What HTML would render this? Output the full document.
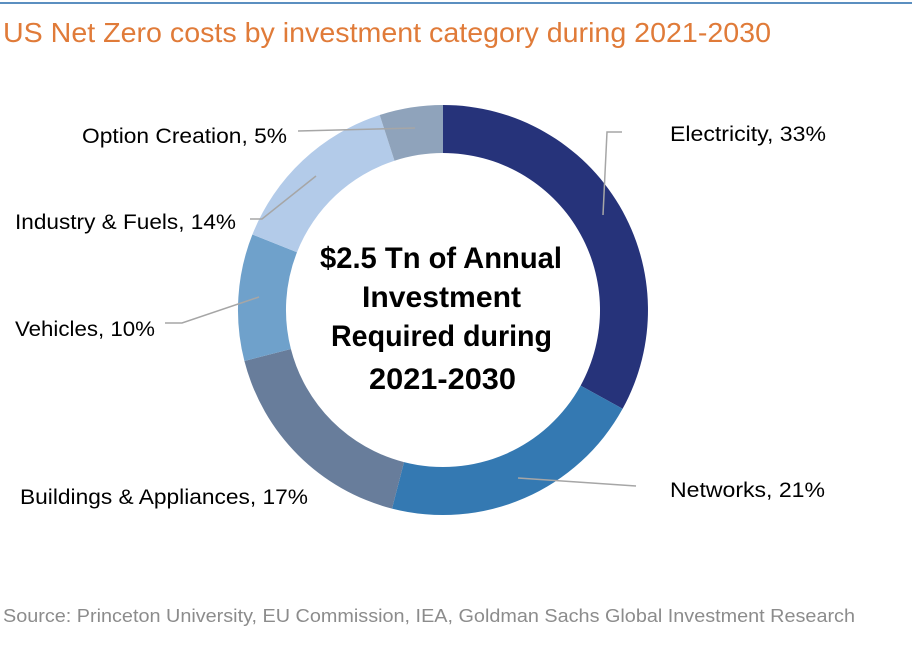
<!DOCTYPE html>
<html><head><style>
body{margin:0;background:#fff;}
svg text{font-family:"Liberation Sans",sans-serif;}
</style></head><body>
<svg width="920" height="655" viewBox="0 0 920 655" xmlns="http://www.w3.org/2000/svg">
<rect width="920" height="655" fill="#fff"/>
<line x1="0" y1="3" x2="912" y2="3" stroke="#5b8fc0" stroke-width="2"/>
<text x="3" y="42" font-size="28" fill="#e07b39" textLength="768" lengthAdjust="spacingAndGlyphs">US Net Zero costs by investment category during 2021-2030</text>
<g>
<path fill="#26337a" d="M443,105 A205,205 0 0 1 622.6,408.8 L580.6,385.6 A157,157 0 0 0 443,153 Z"/>
<path fill="#3479b2" d="M622.6,408.8 A205,205 0 0 1 392.0,508.6 L404.0,462.1 A157,157 0 0 0 580.6,385.6 Z"/>
<path fill="#687d9b" d="M392.0,508.6 A205,205 0 0 1 244.4,361.0 L290.9,349.0 A157,157 0 0 0 404.0,462.1 Z"/>
<path fill="#6fa1cb" d="M244.4,361.0 A205,205 0 0 1 252.4,234.5 L297.0,252.2 A157,157 0 0 0 290.9,349.0 Z"/>
<path fill="#b3cbe9" d="M252.4,234.5 A205,205 0 0 1 379.7,115.0 L394.5,160.7 A157,157 0 0 0 297.0,252.2 Z"/>
<path fill="#8fa3bb" d="M379.7,115.0 A205,205 0 0 1 443,105 L443,153 A157,157 0 0 0 394.5,160.7 Z"/>
</g>
<g stroke="#a6a6a6" stroke-width="1.5" fill="none">
<polyline points="415,128 298,131"/>
<polyline points="603,215 607,132 622,132"/>
<polyline points="316,176 262,219 250,219"/>
<polyline points="259,297 182,323 165,323"/>
<polyline points="518,478 636,486"/>
</g>
<g font-size="21" fill="#000" lengthAdjust="spacingAndGlyphs">
<text x="82" y="143" textLength="205" lengthAdjust="spacingAndGlyphs">Option Creation, 5%</text>
<text x="670" y="141" textLength="156" lengthAdjust="spacingAndGlyphs">Electricity, 33%</text>
<text x="15" y="229" textLength="221" lengthAdjust="spacingAndGlyphs">Industry &amp; Fuels, 14%</text>
<text x="15" y="336" textLength="140" lengthAdjust="spacingAndGlyphs">Vehicles, 10%</text>
<text x="670" y="497" textLength="155" lengthAdjust="spacingAndGlyphs">Networks, 21%</text>
<text x="20" y="504" textLength="288" lengthAdjust="spacingAndGlyphs">Buildings &amp; Appliances, 17%</text>
</g>
<g font-size="30" font-weight="bold" fill="#000">
<text x="320" y="268" textLength="242" lengthAdjust="spacingAndGlyphs">$2.5 Tn of Annual</text>
<text x="362" y="307" textLength="159" lengthAdjust="spacingAndGlyphs">Investment</text>
<text x="331" y="346" textLength="221" lengthAdjust="spacingAndGlyphs">Required during</text>
<text x="369" y="389" textLength="147" lengthAdjust="spacingAndGlyphs">2021-2030</text>
</g>
<text x="3" y="622" font-size="18" fill="#8c8c8c" textLength="852" lengthAdjust="spacingAndGlyphs">Source: Princeton University, EU Commission, IEA, Goldman Sachs Global Investment Research</text>
</svg>
</body></html>
